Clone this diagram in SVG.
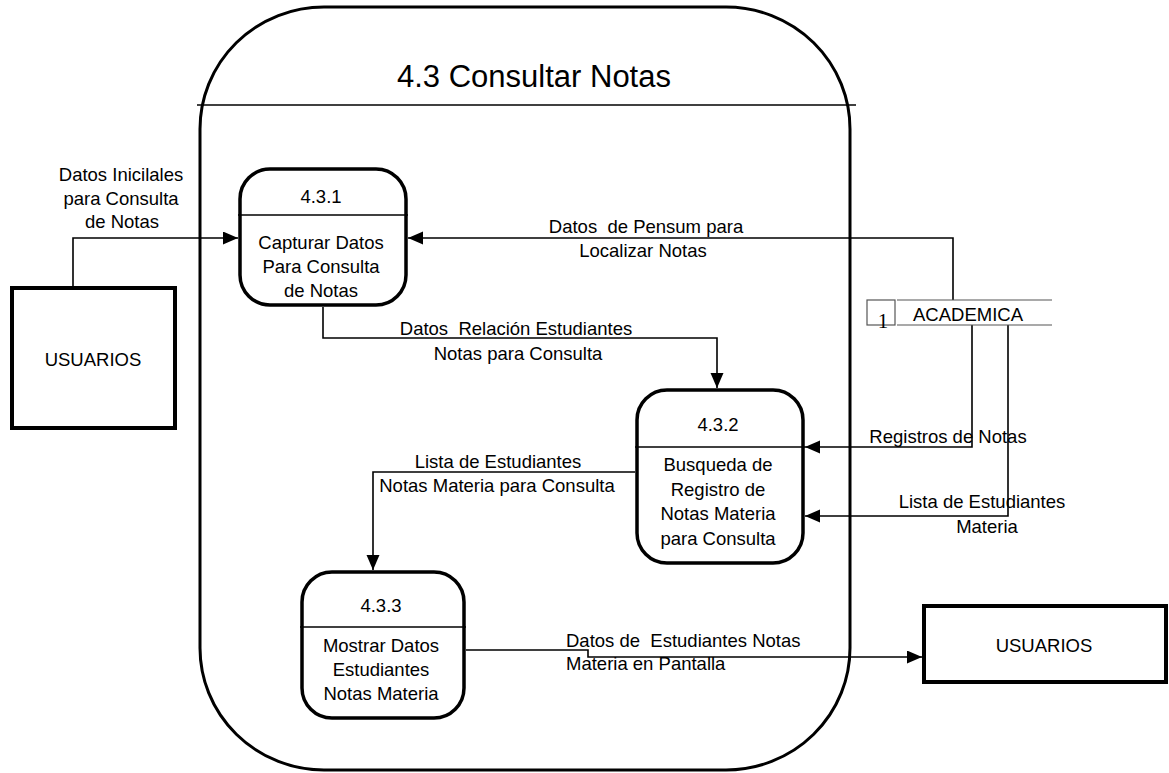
<svg xmlns="http://www.w3.org/2000/svg" width="1169" height="773" viewBox="0 0 1169 773">
<defs>
<style>
text{font-family:"Liberation Sans",Arial,sans-serif;font-size:18.5px;fill:#000}
.c{text-anchor:middle}
.title{font-size:31px}
.proc{fill:#fff;stroke:#000;stroke-width:3.5}
.ent{fill:#fff;stroke:#000;stroke-width:4}
.div{stroke:#000;stroke-width:1.5}
.flow{fill:none;stroke:#000;stroke-width:1.6;marker-end:url(#arr)}
.store{stroke:#555;stroke-width:1.2;fill:none}
</style>
<marker id="arr" markerUnits="userSpaceOnUse" markerWidth="16" markerHeight="14" refX="15" refY="6.5" orient="auto">
<path d="M0,0 L15,6.5 L0,13 Z" fill="#000"/>
</marker>
</defs>
<rect width="1169" height="773" fill="#fff"/>

<g id="boundary">
<rect x="200" y="7" width="650" height="763" rx="124" ry="122" fill="none" stroke="#000" stroke-width="3"/>
<line x1="197" y1="105" x2="856" y2="105" class="div"/>
<text x="534" y="87" class="c title">4.3 Consultar Notas</text>
</g>

<g id="connectors">
<path class="flow" d="M73,288 V238 H238"/>
<path class="flow" d="M953,300 V238 H408"/>
<path class="flow" d="M323,307 V338 H717 V388"/>
<path class="flow" d="M972,325 V447 H805"/>
<path class="flow" d="M1008,325 V516 H805"/>
<path class="flow" d="M635,472 H373 V570"/>
<path class="flow" d="M466,650 H588 V657 H922"/>
<text x="121" y="181" class="c">Datos Inicilales</text>
<text x="121" y="205" class="c">para Consulta</text>
<text x="122" y="228" class="c">de Notas</text>
<text x="646" y="233" class="c" xml:space="preserve">Datos  de Pensum para</text>
<text x="643" y="257" class="c">Localizar Notas</text>
<text x="516" y="335" class="c" xml:space="preserve">Datos  Relación Estudiantes</text>
<text x="518" y="360" class="c">Notas para Consulta</text>
<text x="948" y="443" class="c">Registros de Notas</text>
<text x="982" y="508" class="c">Lista de Estudiantes</text>
<text x="987" y="533" class="c">Materia</text>
<text x="498" y="468" class="c">Lista de Estudiantes</text>
<text x="497" y="492" class="c">Notas Materia para Consulta</text>
<text x="566" y="647" xml:space="preserve">Datos de  Estudiantes Notas</text>
<text x="566" y="670">Materia en Pantalla</text>
</g>

<g id="usuarios-left">
<rect x="12" y="288" width="163" height="140" class="ent"/>
<text x="93" y="366" class="c">USUARIOS</text>
</g>

<g id="usuarios-right">
<rect x="924" y="606" width="242" height="76" class="ent"/>
<text x="1044" y="652" class="c">USUARIOS</text>
</g>

<g id="p431">
<rect x="240" y="169" width="166" height="136" rx="30" class="proc"/>
<line x1="238" y1="215" x2="408" y2="215" class="div"/>
<text x="321" y="203" class="c">4.3.1</text>
<text x="321" y="249" class="c">Capturar Datos</text>
<text x="321" y="273" class="c">Para Consulta</text>
<text x="321" y="297" class="c">de Notas</text>
</g>

<g id="p432">
<rect x="637" y="390" width="166" height="173" rx="30" class="proc"/>
<line x1="635" y1="447" x2="805" y2="447" class="div"/>
<text x="718" y="431" class="c">4.3.2</text>
<text x="718" y="471" class="c">Busqueda de</text>
<text x="718" y="496" class="c">Registro de</text>
<text x="718" y="520" class="c">Notas Materia</text>
<text x="718" y="545" class="c">para Consulta</text>
</g>

<g id="p433">
<rect x="302" y="572" width="162" height="146" rx="30" class="proc"/>
<line x1="300" y1="627" x2="466" y2="627" class="div"/>
<text x="381" y="612" class="c">4.3.3</text>
<text x="381" y="652" class="c">Mostrar Datos</text>
<text x="381" y="676" class="c">Estudiantes</text>
<text x="381" y="700" class="c">Notas Materia</text>
</g>

<g id="academica">
<rect x="867" y="300" width="28" height="25" class="store"/>
<line x1="897" y1="300" x2="1052" y2="300" class="store"/>
<line x1="897" y1="325" x2="1052" y2="325" class="store"/>
<text x="883" y="328" class="c" style="font-family:'Liberation Serif','Times New Roman',serif;font-size:21px">1</text>
<text x="968" y="321" class="c">ACADEMICA</text>
</g>
</svg>
